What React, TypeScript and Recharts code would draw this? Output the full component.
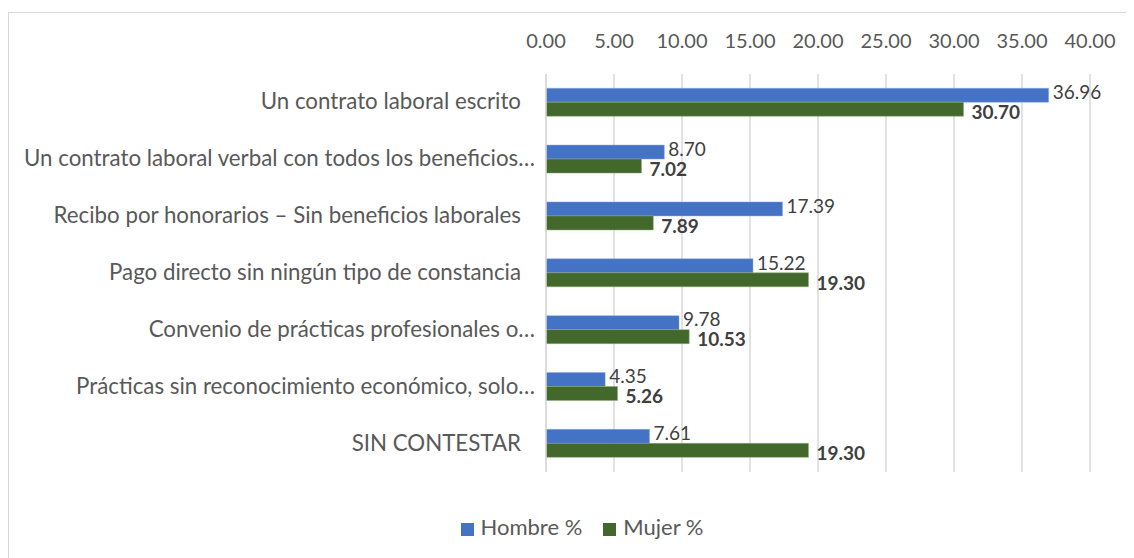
import { BarChart, Bar, XAxis, YAxis, CartesianGrid, Legend, LabelList } from "recharts";

const categories = [
  "Un contrato laboral escrito",
  "Un contrato laboral verbal con todos los beneficios…",
  "Recibo por honorarios – Sin beneficios laborales",
  "Pago directo sin ningún tipo de constancia",
  "Convenio de prácticas profesionales o…",
  "Prácticas sin reconocimiento económico, solo…",
  "SIN CONTESTAR",
];
const hombre = [36.96, 8.7, 17.39, 15.22, 9.78, 4.35, 7.61];
const mujer = [30.7, 7.02, 7.89, 19.3, 10.53, 5.26, 19.3];
const xTicks = [0, 5, 10, 15, 20, 25, 30, 35, 40];

const C = {
  blue: "#4472C4",
  green: "#43682B",
  grid: "#D9D9D9",
  text: "#595959",
  label: "#404040",
};
const FONT = "Lato, 'Open Sans', sans-serif";

const data = categories.map((name, i) => ({ name, hombre: hombre[i], mujer: mujer[i] }));

const fmt = (v: number) => Number(v).toFixed(2);

function CatTick(props: any) {
  const { x, y, payload } = props;
  const label: string = payload.value;
  // Excel drops the trailing gap on truncated labels
  const gap = label.endsWith("…") ? 3 : 17;
  return (
    <text x={x - gap} y={y} dy={7} textAnchor="end" fill={C.text} fontSize={22.3} fontFamily={FONT}>
      {label}
    </text>
  );
}

export default function App() {
  return (
    <div
      style={{
        marginTop: 4,
        width: 1125,
        height: 545,
        borderTop: `1px solid ${C.grid}`,
        borderLeft: `1px solid ${C.grid}`,
        background: "#fff",
      }}
    >
      <BarChart
        width={1125}
        height={545}
        data={data}
        layout="vertical"
        margin={{ top: 0, right: 44, bottom: 59, left: 0 }}
        barCategoryGap="25%"
        barGap={0}
      >
        <CartesianGrid horizontal={false} stroke={C.grid} strokeWidth={1.5} />
        <XAxis
          type="number"
          orientation="top"
          domain={[0, 40]}
          ticks={xTicks}
          tickFormatter={fmt}
          axisLine={false}
          tickLine={false}
          height={61}
          tickMargin={20}
          tick={{ fill: C.text, fontSize: 20, fontFamily: FONT }}
        />
        <YAxis
          type="category"
          dataKey="name"
          width={537}
          axisLine={{ stroke: C.grid, strokeWidth: 1.5 }}
          tickLine={false}
          interval={0}
          tick={<CatTick />}
        />
        <Legend
          verticalAlign="bottom"
          iconType="square"
          iconSize={13}
          wrapperStyle={{ bottom: 18, paddingLeft: 43, fontFamily: FONT, fontSize: 22 }}
          formatter={(val) => <span style={{ color: C.text, marginLeft: 3, marginRight: 11 }}>{val}</span>}
        />
        <Bar dataKey="hombre" name="Hombre %" fill={C.blue} stroke="#8FAADC" strokeWidth={0.5} isAnimationActive={false}>
          <LabelList
            dataKey="hombre"
            position="right"
            offset={4}
            formatter={(v: any) => fmt(v)}
            fill={C.label}
            fontSize={19}
            fontFamily={FONT}
            dy={-3}
          />
        </Bar>
        <Bar dataKey="mujer" name="Mujer %" fill={C.green} stroke="#8EA87A" strokeWidth={0.5} isAnimationActive={false}>
          <LabelList
            dataKey="mujer"
            position="right"
            offset={8}
            formatter={(v: any) => fmt(v)}
            fill={C.label}
            fontSize={19}
            fontWeight="bold"
            fontFamily={FONT}
            dy={3}
          />
        </Bar>
      </BarChart>
    </div>
  );
}
